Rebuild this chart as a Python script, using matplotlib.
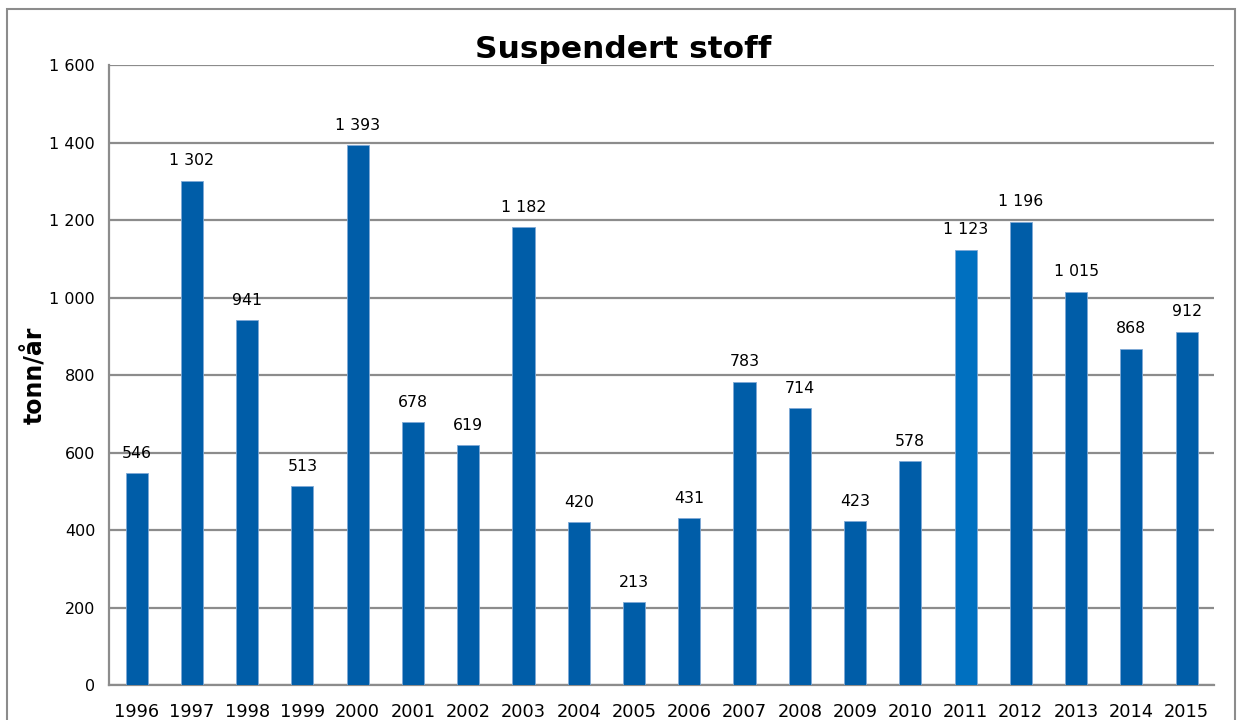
import matplotlib.pyplot as plt
from matplotlib.patches import Rectangle

years = [str(y) for y in range(1996, 2016)]
values = [546, 1302, 941, 513, 1393, 678, 619, 1182, 420, 213,
          431, 783, 714, 423, 578, 1123, 1196, 1015, 868, 912]
yticks = [0, 200, 400, 600, 800, 1000, 1200, 1400, 1600]
ytick_labels = ['0', '200', '400', '600', '800', '1 000', '1 200', '1 400', '1 600']


def fmt(v):
    return f'{v:,}'.replace(',', ' ')


plt.rcParams['font.family'] = ['DejaVu Sans']

fig = plt.figure(figsize=(12.39, 7.2), dpi=100)
ax = fig.add_axes([0.088, 0.0486, 0.892, 0.861])

colors = ['#005DA8'] * len(years)
colors[years.index('2011')] = '#0070C0'
x = range(len(years))
bars = ax.bar(x, values, width=0.4, color=colors, edgecolor='#7FA9D6', linewidth=0.6, zorder=3)

for b, v in zip(bars, values):
    ax.annotate(fmt(v), (b.get_x() + b.get_width() / 2, v), xytext=(0, 9),
                textcoords='offset points', ha='center', va='bottom', fontsize=11.3)

ax.set_xlim(-0.5, len(years) - 0.5)
ax.set_ylim(0, 1600)
ax.set_xticks(list(x))
ax.set_xticklabels(years, fontsize=12.8)
ax.set_yticks(yticks)
ax.set_yticklabels(ytick_labels, fontsize=11.5)
ax.tick_params(axis='y', length=0, pad=10)
ax.tick_params(axis='x', length=0, pad=13)
ax.grid(axis='y', color='#8C8C8C', linewidth=1.6, zorder=0)
for s in ['top', 'right']:
    ax.spines[s].set_visible(False)
for s in ['left', 'bottom']:
    ax.spines[s].set_color('#8C8C8C')
    ax.spines[s].set_linewidth(1.6)

fig.text(35 / 1239, 1 - 375 / 720, 'tonn/år', rotation=90, ha='center', va='center',
         fontsize=17, fontweight='bold')
fig.text(0.503, 1 - 50 / 720, 'Suspendert stoff', ha='center', va='center',
         fontsize=22.5, fontweight='bold')

fig.patches.append(Rectangle((7 / 1239, -0.01), 1228 / 1239, 1 - 9 / 720 + 0.01,
                             transform=fig.transFigure, fill=False,
                             edgecolor='#8C8C8C', linewidth=1.5))

fig.savefig('out.png', dpi=100)
